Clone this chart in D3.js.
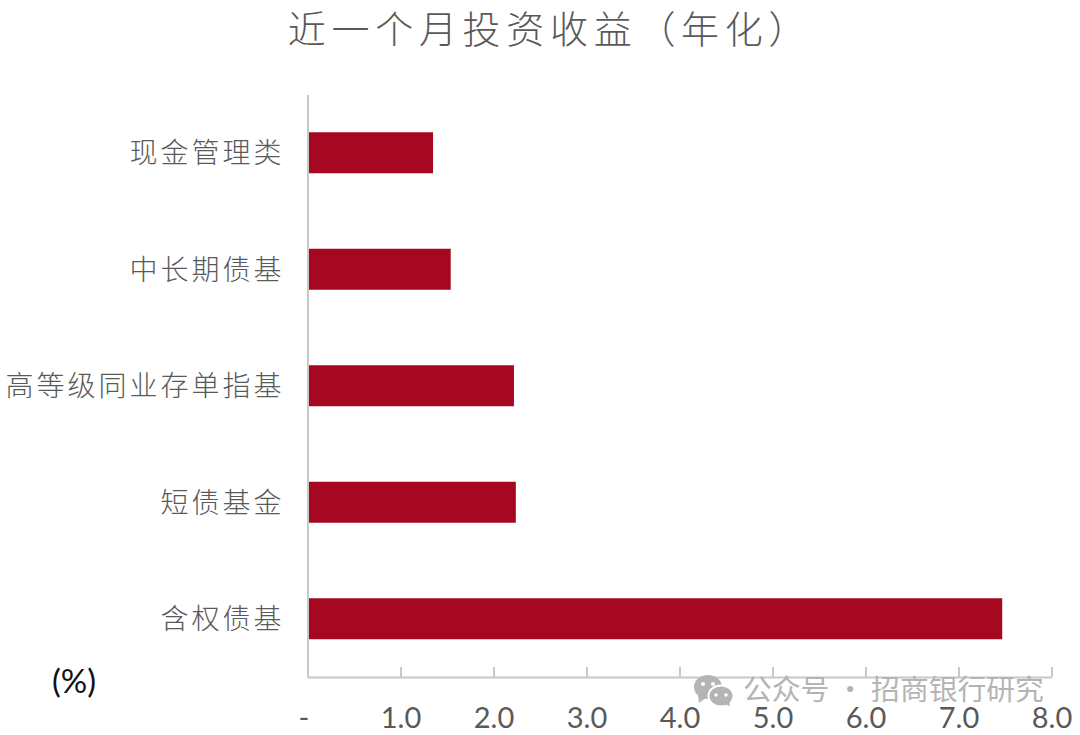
<!DOCTYPE html>
<html>
<head>
<meta charset="utf-8">
<script src="https://cdn.jsdelivr.net/npm/d3@7/dist/d3.min.js"></script>
<style>
  html, body { margin: 0; padding: 0; background: #fff; }
  svg { display: block; }
  .cjk { font-family: "Noto Sans CJK SC", sans-serif; font-weight: 300; }
</style>
</head>
<body>
<svg id="chart"></svg>
<script>
const categories = ['现金管理类', '中长期债基', '高等级同业存单指基', '短债基金', '含权债基'];
const returns = [1.35, 1.54, 2.22, 2.24, 7.47];
const xTicks = [0, 1, 2, 3, 4, 5, 6, 7, 8];
const titleText = '近一个月投资收益（年化）';
const unitText = '(%)';
const watermarkText = '公众号 · 招商银行研究';

const width = 1080;
const height = 735;
const axisGrey = '#c8c8c8';
const textGrey = '#595959';

const svg = d3.select('#chart').attr('width', width).attr('height', height);

const xScale = d3.scaleLinear().domain([0, 8]).range([307.5, 1051.5]);
const yScale = d3.scaleBand().domain(categories).range([94.5, 677]).paddingInner(0.648).paddingOuter(0.324);

svg.append('text')
  .attr('class', 'cjk')
  .attr('x', 550)
  .attr('y', 43)
  .attr('text-anchor', 'middle')
  .attr('fill', textGrey)
  .attr('font-size', 38)
  .attr('letter-spacing', 5.7)
  .text(titleText);

svg.selectAll('rect.bar')
  .data(categories)
  .join('rect')
  .attr('class', 'bar')
  .attr('x', xScale(0))
  .attr('y', d => yScale(d))
  .attr('width', (d, i) => xScale(returns[i]) - xScale(0))
  .attr('height', yScale.bandwidth())
  .attr('fill', '#a50820');

const yAxis = svg.append('g')
  .attr('transform', 'translate(' + xScale(0) + ',0)')
  .call(d3.axisLeft(yScale).tickSize(0).tickPadding(23));
yAxis.select('.domain').attr('stroke', axisGrey).attr('stroke-width', 2);
yAxis.selectAll('text')
  .attr('class', 'cjk')
  .attr('fill', textGrey)
  .attr('font-size', 28)
  .attr('letter-spacing', 3)
  .attr('dy', '0.38em');

const xAxis = svg.append('g')
  .attr('transform', 'translate(0,677)')
  .call(d3.axisBottom(xScale)
    .tickValues(xTicks)
    .tickSize(-10)
    .tickSizeOuter(0)
    .tickPadding(30)
    .tickFormat(d => d === 0 ? '-' : d3.format('.1f')(d)));
xAxis.select('.domain').attr('stroke', axisGrey).attr('stroke-width', 2);
xAxis.selectAll('line').attr('stroke', axisGrey).attr('stroke-width', 2);
xAxis.selectAll('text')
  .attr('fill', textGrey)
  .attr('font-family', 'Lato, sans-serif')
  .attr('font-size', 29)
  .attr('dx', d => d === 0 ? -4 : 0);

svg.append('text')
  .attr('x', 52)
  .attr('y', 693)
  .attr('fill', '#111')
  .attr('font-family', 'Lato, sans-serif')
  .attr('font-size', 33)
  .text(unitText);

// watermark
const wm = svg.append('g').attr('fill', '#b4b4b4');
wm.append('ellipse').attr('cx', 708).attr('cy', 687).attr('rx', 14).attr('ry', 12);
wm.append('path').attr('d', 'M698 695 L699 703 L707 697 Z');
wm.append('ellipse').attr('cx', 721).attr('cy', 696).attr('rx', 12.5).attr('ry', 10.5).attr('stroke', '#fff').attr('stroke-width', 2);
wm.append('path').attr('d', 'M724 704 L730 706 L729 699 Z');
wm.selectAll('circle')
  .data([[703, 684, 2], [713, 684, 2], [716, 695, 1.7], [726, 695, 1.7]])
  .join('circle')
  .attr('cx', d => d[0]).attr('cy', d => d[1]).attr('r', d => d[2]).attr('fill', '#fff');
svg.append('text')
  .attr('x', 743)
  .attr('y', 700)
  .attr('fill', '#b4b4b4')
  .attr('font-family', '"Noto Sans CJK SC", sans-serif')
  .attr('font-size', 28.8)
  .text(watermarkText);
</script>
</body>
</html>
